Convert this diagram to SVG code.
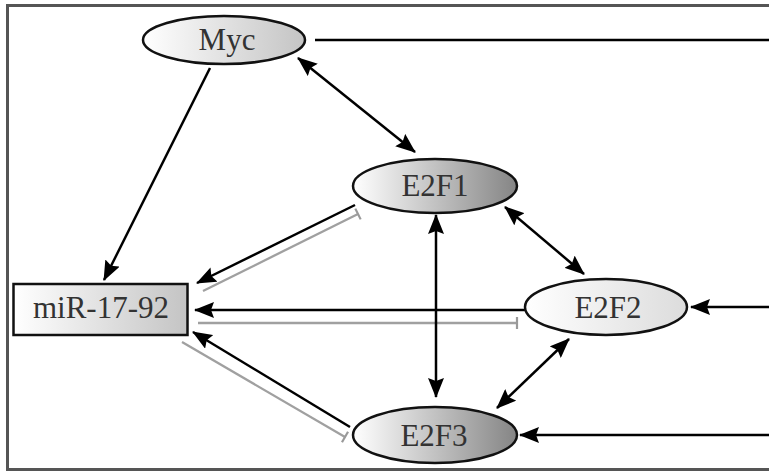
<svg xmlns="http://www.w3.org/2000/svg" width="769" height="473" viewBox="0 0 769 473">
<defs>
<linearGradient id="gLight" x1="0" y1="0" x2="1" y2="0"><stop offset="0" stop-color="#ffffff"/><stop offset="1" stop-color="#c4c4c4"/></linearGradient>
<linearGradient id="gDark" x1="0" y1="0" x2="1" y2="0"><stop offset="0" stop-color="#ffffff"/><stop offset="1" stop-color="#858585"/></linearGradient>
<linearGradient id="gPale" x1="0" y1="0" x2="1" y2="0"><stop offset="0" stop-color="#ffffff"/><stop offset="1" stop-color="#dcdcdc"/></linearGradient>
<marker id="ah" viewBox="0 0 20 16" refX="19" refY="8" markerWidth="20" markerHeight="16" markerUnits="userSpaceOnUse" orient="auto-start-reverse"><path d="M0,0 L20,8 L0,16 L3,8 z" fill="#000"/></marker>
<marker id="tb" viewBox="-2 -7 4 14" refX="0" refY="0" markerWidth="4" markerHeight="14" markerUnits="userSpaceOnUse" orient="auto"><path d="M0,-6 L0,6" stroke="#999" stroke-width="2.2"/></marker>
</defs>
<style>
.node{stroke:#111;stroke-width:2.5}
.lbl{font-family:"Liberation Serif","Times New Roman",serif;font-size:31px;fill:#333;text-anchor:middle}
.act{stroke:#000;stroke-width:2.5;fill:none}
.inh{stroke:#a0a0a0;stroke-width:2.3;fill:none}
</style>
<rect width="769" height="473" fill="#fff"/>
<path d="M772,5.5 L7.5,5.5 L7.5,469.5 L772,469.5" fill="none" stroke="#555" stroke-width="3"/>
<g id="connectors">
<line class="act" x1="315" y1="40" x2="769" y2="40"/>
<line class="act" x1="769" y1="307" x2="691" y2="307" marker-end="url(#ah)"/>
<line class="act" x1="769" y1="435" x2="520" y2="435" marker-end="url(#ah)"/>
<line class="act" x1="210" y1="68" x2="104" y2="280" marker-end="url(#ah)"/>
<line class="act" x1="298" y1="58" x2="415" y2="152" marker-start="url(#ah)" marker-end="url(#ah)"/>
<line class="act" x1="355" y1="205" x2="197" y2="283" marker-end="url(#ah)"/>
<line class="inh" x1="203" y1="291" x2="358" y2="214" marker-end="url(#tb)"/>
<line class="act" x1="525" y1="310" x2="195" y2="310" marker-end="url(#ah)"/>
<line class="inh" x1="198" y1="323" x2="517" y2="323" marker-end="url(#tb)"/>
<line class="act" x1="350" y1="427" x2="193" y2="332" marker-end="url(#ah)"/>
<line class="inh" x1="182" y1="342" x2="345" y2="437" marker-end="url(#tb)"/>
<line class="act" x1="436" y1="215" x2="436" y2="397" marker-start="url(#ah)" marker-end="url(#ah)"/>
<line class="act" x1="505" y1="207" x2="584" y2="274" marker-start="url(#ah)" marker-end="url(#ah)"/>
<line class="act" x1="569" y1="339" x2="497" y2="408" marker-start="url(#ah)" marker-end="url(#ah)"/>
</g>
<g id="myc"><ellipse class="node" cx="224" cy="40" rx="81" ry="24" fill="url(#gLight)"/><text class="lbl" x="227" y="50">Myc</text></g>
<g id="e2f1"><ellipse class="node" cx="435" cy="186" rx="82" ry="27" fill="url(#gDark)"/><text class="lbl" x="435" y="196">E2F1</text></g>
<g id="mir"><rect class="node" x="13.5" y="284" width="174" height="51" fill="url(#gLight)" stroke-width="3"/><text class="lbl" x="101" y="318">miR-17-92</text></g>
<g id="e2f2"><ellipse class="node" cx="606" cy="307" rx="81" ry="28" fill="url(#gPale)"/><text class="lbl" x="608" y="318">E2F2</text></g>
<g id="e2f3"><ellipse class="node" cx="435" cy="435" rx="82" ry="28" fill="url(#gDark)"/><text class="lbl" x="434" y="446">E2F3</text></g>
</svg>
